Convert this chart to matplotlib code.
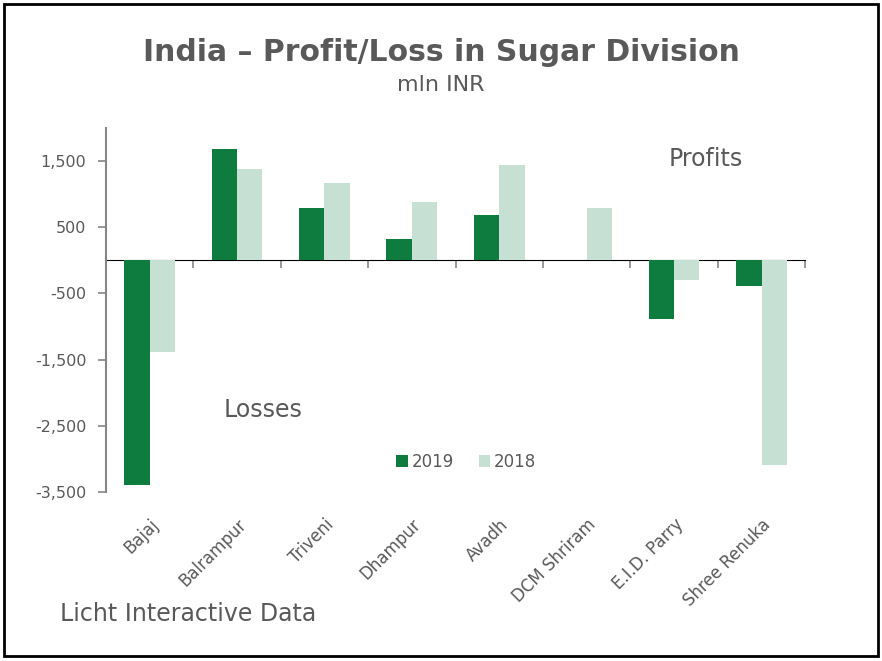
import numpy as np
import matplotlib.pyplot as plt
from matplotlib.ticker import FuncFormatter
from matplotlib.patches import Rectangle

companies = ["Bajaj", "Balrampur", "Triveni", "Dhampur", "Avadh",
             "DCM Shriram", "E.I.D. Parry", "Shree Renuka"]
profit_2019 = [-3400, 1680, 800, 320, 680, 0, -880, -390]
profit_2018 = [-1390, 1390, 1170, 880, 1440, 800, -290, -3090]
series_names = ["2019", "2018"]
yticks = [-3500, -2500, -1500, -500, 500, 1500]

dark = "#0e7c3e"
light = "#c6e0d3"
grey = "#595959"
axis_grey = "#868686"

fig = plt.figure(figsize=(8.82, 6.61), dpi=100)
ax = fig.add_axes([0.120, 0.256, 0.793, 0.550])

x = np.arange(len(companies))
w = 0.29
ax.bar(x - w / 2, profit_2019, w, color=dark, label=series_names[0])
ax.bar(x + w / 2, profit_2018, w, color=light, label=series_names[1])

ymin, ymax = -3500, 2000
ax.set_ylim(ymin, ymax)
ax.set_xlim(-0.5, len(companies) - 0.5)

ax.set_yticks(yticks)
ax.yaxis.set_major_formatter(FuncFormatter(lambda v, p: f"{v:,.0f}"))
ax.tick_params(axis="y", direction="out", length=6, width=1.2, color=axis_grey,
               labelsize=11.5, labelcolor=grey, pad=8)

ax.set_xticks(x)
ax.set_xticklabels(companies, rotation=45, ha="right", rotation_mode="anchor")
ax.tick_params(axis="x", length=0, labelsize=12, labelcolor=grey, pad=17)

for s in ["top", "right", "bottom"]:
    ax.spines[s].set_visible(False)
ax.spines["left"].set_color(axis_grey)
ax.spines["left"].set_linewidth(1.5)

# zero line with category boundary ticks
zero_loc = (0 - ymin) / (ymax - ymin)
sec = ax.secondary_xaxis(zero_loc)
sec.set_xticks(np.arange(-0.5, len(companies), 1.0))
sec.set_xticklabels([])
sec.tick_params(direction="in", length=6, color=axis_grey, width=1.2)
sec.spines["bottom"].set_color(axis_grey)
sec.spines["bottom"].set_linewidth(1.8)

ax.text(1.3, -2270, "Losses", fontsize=17, color=grey, ha="center", va="center")
ax.text(6.36, 1530, "Profits", fontsize=17, color=grey, ha="center", va="center")

leg = ax.legend(loc="center", bbox_to_anchor=(0.515, 0.082), ncol=2, frameon=False,
                fontsize=12, handlelength=0.7, handleheight=0.7, handletextpad=0.2,
                columnspacing=1.5)
for t in leg.get_texts():
    t.set_color(grey)

fig.text(0.5, 0.920, "India \u2013 Profit/Loss in Sugar Division", fontsize=21.5,
         fontweight="bold", color=grey, ha="center", va="center")
fig.text(0.5, 0.872, "mln INR", fontsize=16, color=grey, ha="center", va="center")
fig.text(0.068, 0.071, "Licht Interactive Data", fontsize=17, color=grey,
         ha="left", va="center")

fig.patches.append(Rectangle((0.005, 0.008), 0.990, 0.986, transform=fig.transFigure,
                             fill=False, edgecolor="black", linewidth=2))

fig.savefig("out.png", dpi=100)
